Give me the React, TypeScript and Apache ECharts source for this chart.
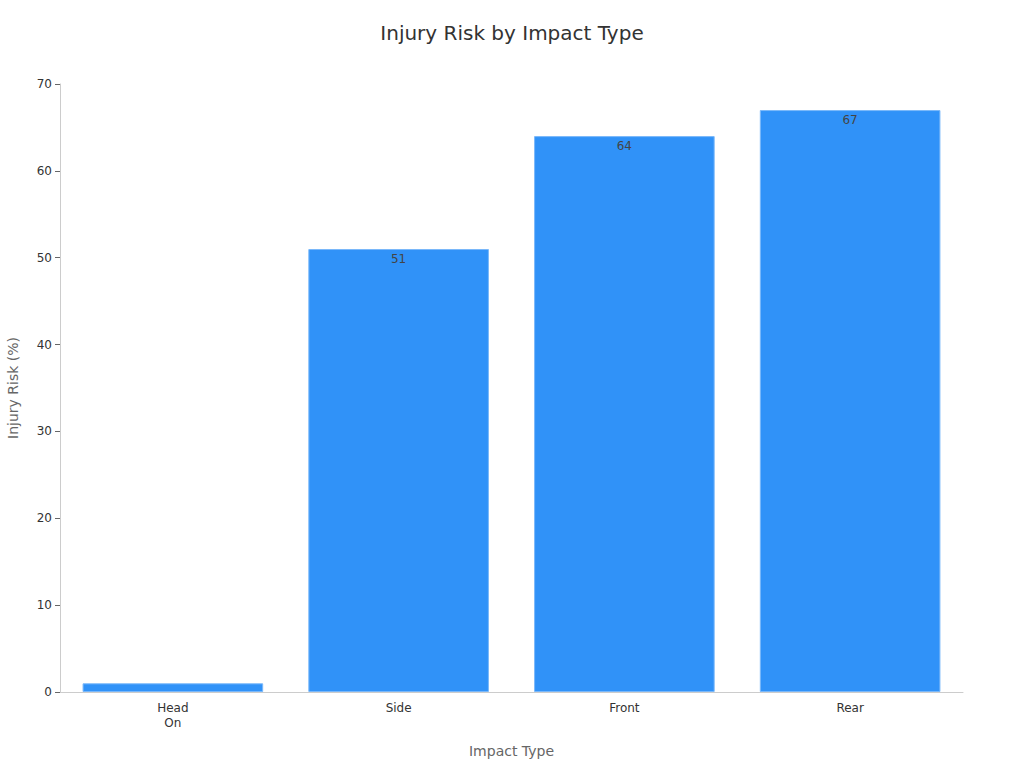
import { useRef, useEffect } from 'react'
import * as echarts from 'echarts'

const CATEGORIES = ['Head On', 'Side', 'Front', 'Rear']
const RISK_VALUES = [1, 51, 64, 67]
const Y_MAX = 70
const Y_INTERVAL = 10

const FONT = '"DejaVu Sans", "Noto Sans", sans-serif'
const BAR_COLOR = '#3092f8'
const BAR_BORDER = '#7ab8fa'

function buildOption(): echarts.EChartsOption {
  return {
    backgroundColor: '#ffffff',
    animation: false,
    textStyle: { fontFamily: FONT },
    title: {
      text: 'Injury Risk by Impact Type',
      left: 'center',
      top: 18,
      textStyle: { fontSize: 20, fontWeight: 'normal', color: '#333333', fontFamily: FONT },
    },
    grid: { top: 84, left: 60, right: 61, bottom: 76, containLabel: false, outerBoundsMode: 'none' } as any,
    xAxis: {
      type: 'category',
      data: CATEGORIES,
      name: 'Impact Type',
      nameLocation: 'middle',
      nameGap: 52,
      nameTextStyle: { fontSize: 14, color: '#666666', fontFamily: FONT },
      axisLine: { lineStyle: { color: '#cccccc' } },
      axisTick: { alignWithLabel: true, lineStyle: { color: '#666666' } },
      axisLabel: {
        fontSize: 12,
        color: '#333333',
        fontFamily: FONT,
        interval: 0,
        margin: 8,
        lineHeight: 15,
        formatter: (v: string) => (v.length > 6 ? v.replace(' ', '\n') : v),
      },
    },
    yAxis: {
      type: 'value',
      min: 0,
      max: Y_MAX,
      interval: Y_INTERVAL,
      name: 'Injury Risk (%)',
      nameLocation: 'middle',
      nameGap: 40,
      nameTextStyle: { fontSize: 14, color: '#666666', fontFamily: FONT },
      axisLine: { show: true, lineStyle: { color: '#cccccc' } },
      axisTick: { show: true, lineStyle: { color: '#666666' } },
      axisLabel: { fontSize: 12, color: '#333333', fontFamily: FONT, margin: 8 },
      splitLine: { show: false },
    },
    series: [
      {
        type: 'bar',
        data: RISK_VALUES,
        barCategoryGap: '20%',
        itemStyle: { color: BAR_COLOR, borderColor: BAR_BORDER, borderWidth: 1 },
        label: {
          show: true,
          position: 'insideTop',
          distance: 4,
          fontSize: 12,
          color: '#444444',
          fontFamily: FONT,
          formatter: (p: any) => (p.value < 3 ? '' : String(p.value)),
        },
      },
    ],
  }
}

export default function App() {
  const containerRef = useRef<HTMLDivElement>(null)

  useEffect(() => {
    const el = containerRef.current
    if (!el) return
    const chart = echarts.init(el, null, { renderer: 'svg' })
    chart.setOption(buildOption())
    return () => chart.dispose()
  }, [])

  return (
    <div
      ref={containerRef}
      style={{ position: 'fixed', left: 0, top: 0, width: 1024, height: 768, background: '#ffffff' }}
    />
  )
}
